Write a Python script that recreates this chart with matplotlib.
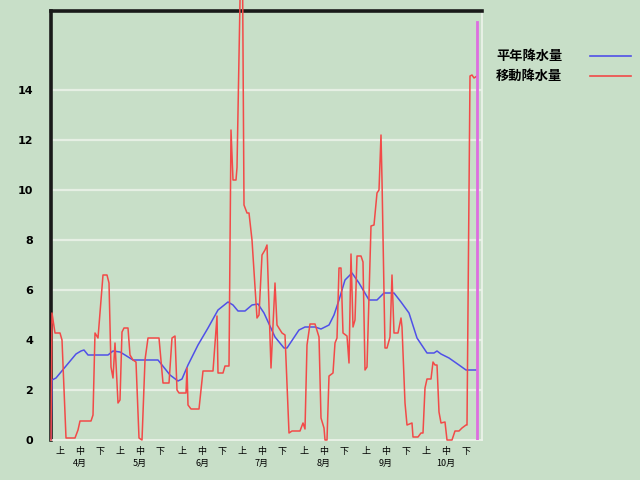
import matplotlib
matplotlib.use("Agg")
import matplotlib.pyplot as plt
from matplotlib.lines import Line2D
from matplotlib.transforms import blended_transform_factory

# ---- data (day index from 1 April, value) ----
red_days = [0, 0.5, 2, 4.5, 5.5, 7.5, 12, 13.5, 14.5, 20, 21, 22, 23.5, 26, 28, 29, 30, 31, 32, 33.5, 34.5,
            35.5, 36.5, 38.5, 39.5, 41, 42.5, 44, 45.5, 47, 48.5, 54, 56, 59, 60.5, 62, 63, 64, 67.5, 68,
            68.5, 70, 74, 76, 81, 82, 83, 83.5, 86, 87, 89, 90, 91, 92.5, 93, 95.5, 96.5, 98, 99, 100.5,
            103, 104, 105.5, 107, 108, 110, 112, 113, 115.5, 117, 119, 120.5, 124.5, 126, 127, 128, 129.5,
            132, 134, 135, 136.5, 137, 138, 139, 141, 142, 143, 144, 145, 146, 148, 149, 150, 151, 152, 153,
            155, 156, 157, 158, 160, 161.5, 163, 164, 165, 165.5, 167, 168, 169.5, 170.5, 171.5, 173.5, 175,
            175.5, 177, 178, 180.5, 181, 183.5, 185, 186, 187, 188, 190, 191, 192, 193, 194, 195, 197, 198,
            200.5, 202, 204, 205.5, 207.5, 208, 209.5, 210.5, 211.5, 213]
red_vals = [0, 5.08, 4.28, 4.28, 4.0, 0.08, 0.08, 0.4, 0.76, 0.76, 1.0, 4.28, 4.08, 6.6, 6.6, 6.28, 2.92, 2.48,
            3.88, 1.48, 1.6, 4.32, 4.48, 4.48, 3.4, 3.2, 3.12, 0.08, 0.0, 3.2, 4.08, 4.08, 2.28, 2.28, 4.08,
            4.16, 2.0, 1.88, 1.88, 2.88, 1.4, 1.24, 1.24, 2.76, 2.76, 3.88, 4.96, 2.68, 2.68, 2.96, 2.96,
            12.4, 10.4, 10.4, 10.9, 22.0, 9.4, 9.08, 9.08, 8.0, 4.88, 5.0, 7.4, 7.6, 7.8, 2.88, 6.28, 4.6,
            4.28, 4.2, 0.28, 0.36, 0.36, 0.68, 0.44, 3.8, 4.64, 4.64, 4.12, 0.88, 0.48, 0.0, 0.0, 2.56, 2.68,
            3.88, 4.08, 6.88, 6.88, 4.28, 4.16, 3.08, 7.44, 4.52, 4.8, 7.36, 7.36, 7.12, 2.8, 2.92, 8.56, 8.6,
            9.88, 10.0, 12.2, 10.4, 3.68, 3.68, 4.12, 6.6, 4.28, 4.28, 4.88, 4.52, 1.48, 0.6, 0.68, 0.12,
            0.12, 0.28, 0.28, 2.08, 2.44, 2.44, 3.12, 3.0, 3.0, 1.12, 0.68, 0.72, 0.0, 0.0, 0.36, 0.36, 0.48,
            0.6, 0.6, 14.56, 14.6, 14.48, 14.56]

blue_days = [0, 0.5, 2.5, 12.5, 15, 16.5, 18.5, 28.5, 31, 34.5, 37, 41, 53.5, 55.5, 59.5, 63.5, 65.5, 68.5,
             73.5, 78.5, 83.5, 88.5, 91, 93.5, 97, 100.5, 103.5, 106.5, 112, 116.5, 118, 124, 127, 132, 135,
             139, 141.5, 144, 147, 150.5, 154, 159, 163, 166.5, 171.5, 175, 179, 183, 188, 191.5, 193, 195,
             199, 204, 207.5, 213]
blue_vals = [0, 2.4, 2.48, 3.44, 3.56, 3.6, 3.4, 3.4, 3.56, 3.52, 3.4, 3.2, 3.2, 3.0, 2.6, 2.36, 2.44, 3.0,
             3.8, 4.48, 5.2, 5.52, 5.4, 5.16, 5.16, 5.4, 5.44, 5.08, 4.12, 3.68, 3.68, 4.4, 4.52, 4.52, 4.44,
             4.6, 5.0, 5.6, 6.4, 6.68, 6.28, 5.6, 5.6, 5.88, 5.88, 5.52, 5.08, 4.08, 3.48, 3.48, 3.56, 3.44,
             3.28, 3.0, 2.8, 2.8]

marker_day = 213
marker_top = 16.72

months = ["4月", "5月", "6月", "7月", "8月", "9月", "10月"]
month_start = [0, 30, 61, 91, 122, 153, 183]
dekads = ["上", "中", "下"]
yticks = [0, 2, 4, 6, 8, 10, 12, 14]
legend_labels = ["平年降水量", "移動降水量"]

BG = "#c8dfc8"
RED = "#f24a48"
BLUE = "#5050e8"
MAG = "#dd6ee0"

plt.rcParams['font.family'] = ['Noto Sans CJK JP', 'DejaVu Sans']

fig = plt.figure(figsize=(6.4, 4.8), dpi=100, facecolor=BG)
ax = fig.add_axes([51/640, 40/480, 431/640, 429/480], facecolor=BG)

ax.set_xlim(0, 215.5)
ax.set_ylim(0, 17.16)

for y in yticks[1:]:
    ax.axhline(y, color="#e6efe4", lw=1.6, zorder=1)

ax.plot(blue_days, blue_vals, color=BLUE, lw=1.1, zorder=3)
ax.plot(red_days, red_vals, color=RED, lw=1.1, zorder=4, clip_on=False)
ax.plot([marker_day, marker_day], [0, marker_top], color=MAG, lw=2, zorder=5)

for s in ["top", "left"]:
    ax.spines[s].set_color("#1a1a1a")
    ax.spines[s].set_linewidth(2.6)
for s in ["bottom", "right"]:
    ax.spines[s].set_color("#eef4ec")
    ax.spines[s].set_linewidth(1.2)

ax.set_yticks(yticks)
ax.set_yticklabels([str(v) for v in yticks], fontsize=8, fontweight="bold", family="DejaVu Sans")
ax.tick_params(axis="y", length=0, pad=13)

xt, xl = [], []
for m in month_start:
    for i, d in enumerate(dekads):
        xt.append(m + 4.5 + 10 * i)
        xl.append(d)
ax.set_xticks(xt)
ax.set_xticklabels(xl, fontsize=6.5)
ax.tick_params(axis="x", length=0, pad=5)

tr = blended_transform_factory(ax.transData, ax.transAxes)
for m, lab in zip(month_start, months):
    ax.text(m + 14.5, -0.054, lab, transform=tr, ha="center", va="center", fontsize=6.5)

# legend
fig.text(496/640, 1 - 55.5/480, legend_labels[0], fontsize=9.5, fontweight="bold", va="center", ha="left")
fig.text(496/640, 1 - 75.5/480, legend_labels[1], fontsize=9.5, fontweight="bold", va="center", ha="left")
fig.add_artist(Line2D([590/640, 631/640], [1 - 55.7/480] * 2, color=BLUE, lw=1.2))
fig.add_artist(Line2D([590/640, 631/640], [1 - 76/480] * 2, color=RED, lw=1.2))

fig.savefig("out.png", dpi=100, facecolor=BG)
